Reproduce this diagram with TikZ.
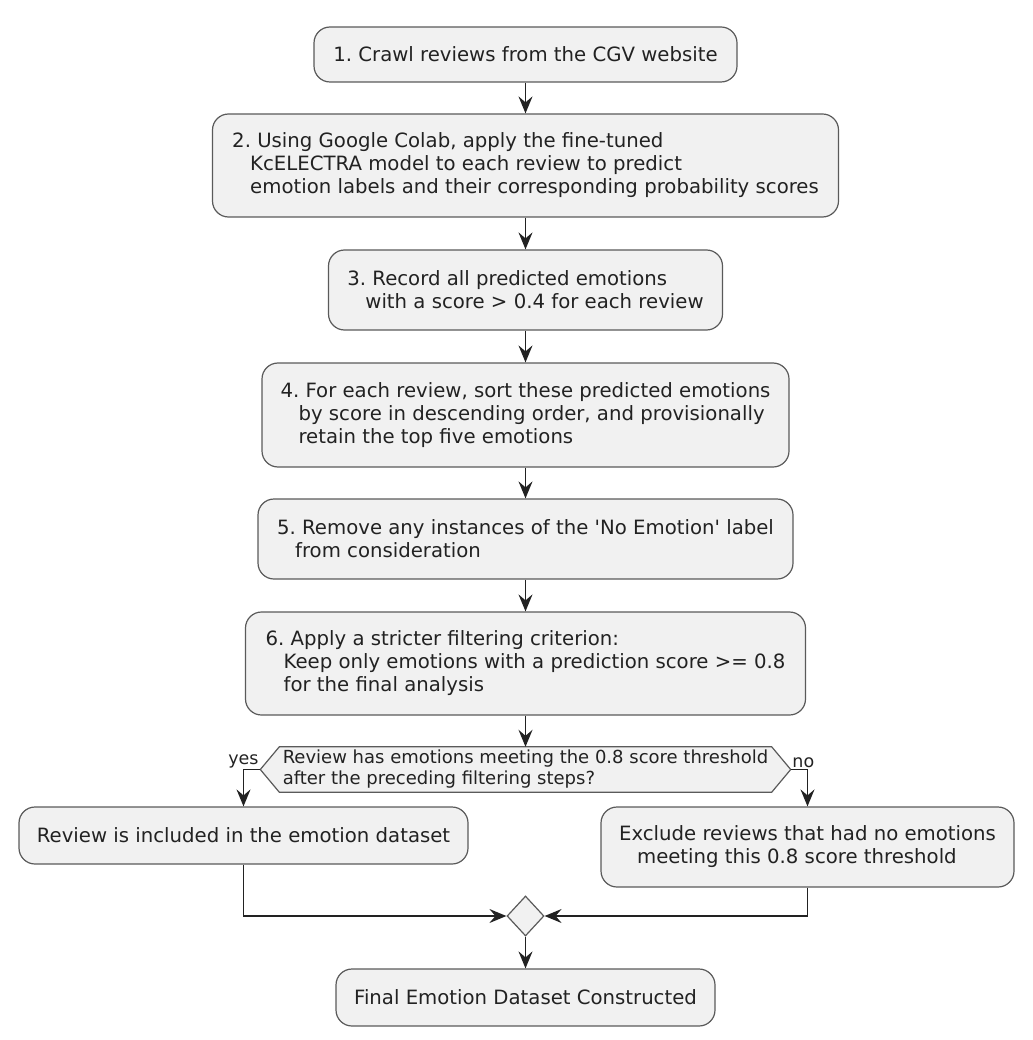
\documentclass[tikz,border=0pt]{standalone}
\usepackage{fontspec}
\setmainfont{DejaVu Sans}
\usepackage{xcolor}
\usetikzlibrary{shapes.geometric,arrows.meta,backgrounds}
\definecolor{actfill}{HTML}{F1F1F1}
\definecolor{actline}{HTML}{5A5A5A}
\definecolor{flowcol}{HTML}{222222}
\newcommand{\ind}{\hspace*{18pt}}
\frenchspacing

\begin{document}
\begin{tikzpicture}[x=1pt,y=-1pt,
    act/.style={draw=actline, fill=actfill, line width=1.2pt, rounded corners=16pt,
        align=left, inner sep=0pt, text=flowcol, font=\fontsize{19.7}{23}\selectfont},
    flow/.style={draw=flowcol, line width=1.5pt, -{Stealth[length=17pt,width=14pt,inset=6pt]}},
    lbl/.style={inner sep=1.5pt, text=flowcol, font=\fontsize{17.5}{20}\selectfont}]
    \useasboundingbox (0,0) rectangle (1032,1040);

    \node[act, minimum width=423pt, minimum height=55pt] (crawl) at (525.5,54.5)
        {1. Crawl reviews from the CGV website};
    \node[act, minimum width=626pt, minimum height=103pt] (colab) at (525.5,165.5)
        {2. Using Google Colab, apply the fine-tuned\\
         \ind KcELECTRA model to each review to predict\\
         \ind emotion labels and their corresponding probability scores};
    \node[act, minimum width=394pt, minimum height=80pt] (record) at (525.5,290)
        {3. Record all predicted emotions\\
         \ind with a score > 0.4 for each review};
    \node[act, minimum width=527pt, minimum height=104pt] (sort) at (525.5,415)
        {4. For each review, sort these predicted emotions\\
         \ind by score in descending order, and provisionally\\
         \ind retain the top five emotions};
    \node[act, minimum width=535pt, minimum height=80pt] (remove) at (525.5,539)
        {5. Remove any instances of the \textquotesingle No Emotion\textquotesingle{} label\\
         \ind from consideration};
    \node[act, minimum width=560pt, minimum height=103pt] (strict) at (525.5,663.5)
        {6. Apply a stricter filtering criterion:\\
         \ind Keep only emotions with a prediction score >= 0.8\\
         \ind for the final analysis};

    % decision
    \node[align=left, inner sep=0pt, text=flowcol, font=\fontsize{18}{21}\selectfont,
        minimum width=492pt, minimum height=45pt] (check) at (525.5,769.5)
        {Review has emotions meeting the 0.8 score threshold\\
         after the preceding filtering steps?};
    \coordinate (checkW) at ([xshift=-19pt]check.west);
    \coordinate (checkE) at ([xshift=19pt]check.east);
    \begin{scope}[on background layer]
        \draw[draw=actline, fill=actfill, line width=1.2pt] (check.north west) -- (check.north east)
            -- (checkE) -- (check.south east) -- (check.south west) -- (checkW) -- cycle;
    \end{scope}
    \node[lbl, anchor=south east] (yes) at (checkW) {yes};
    \node[lbl, anchor=south west] (no) at (checkE) {no};

    \node[act, minimum width=449pt, minimum height=57pt] (keep) at (243.5,835.5)
        {Review is included in the emotion dataset};
    \node[act, minimum width=413pt, minimum height=80pt] (exclude) at (807.5,847)
        {Exclude reviews that had no emotions\\
         \ind meeting this 0.8 score threshold};
    \node[diamond, draw=actline, fill=actfill, line width=1.2pt, inner sep=0pt,
        minimum width=37pt, minimum height=40pt] (merge) at (525.5,916) {};
    \node[act, minimum width=379pt, minimum height=57pt] (final) at (525.5,997.5)
        {Final Emotion Dataset Constructed};

    \draw[flow] (crawl) -- (colab);
    \draw[flow] (colab) -- (record);
    \draw[flow] (record) -- (sort);
    \draw[flow] (sort) -- (remove);
    \draw[flow] (remove) -- (strict);
    \draw[flow] (strict) -- (check.north);
    \draw[flow] (checkW) -| (keep);
    \draw[flow] (checkE) -| (exclude);
    \draw[flow] (keep) |- (merge);
    \draw[flow] (exclude) |- (merge);
    \draw[flow] (merge) -- (final);
\end{tikzpicture}
\end{document}
